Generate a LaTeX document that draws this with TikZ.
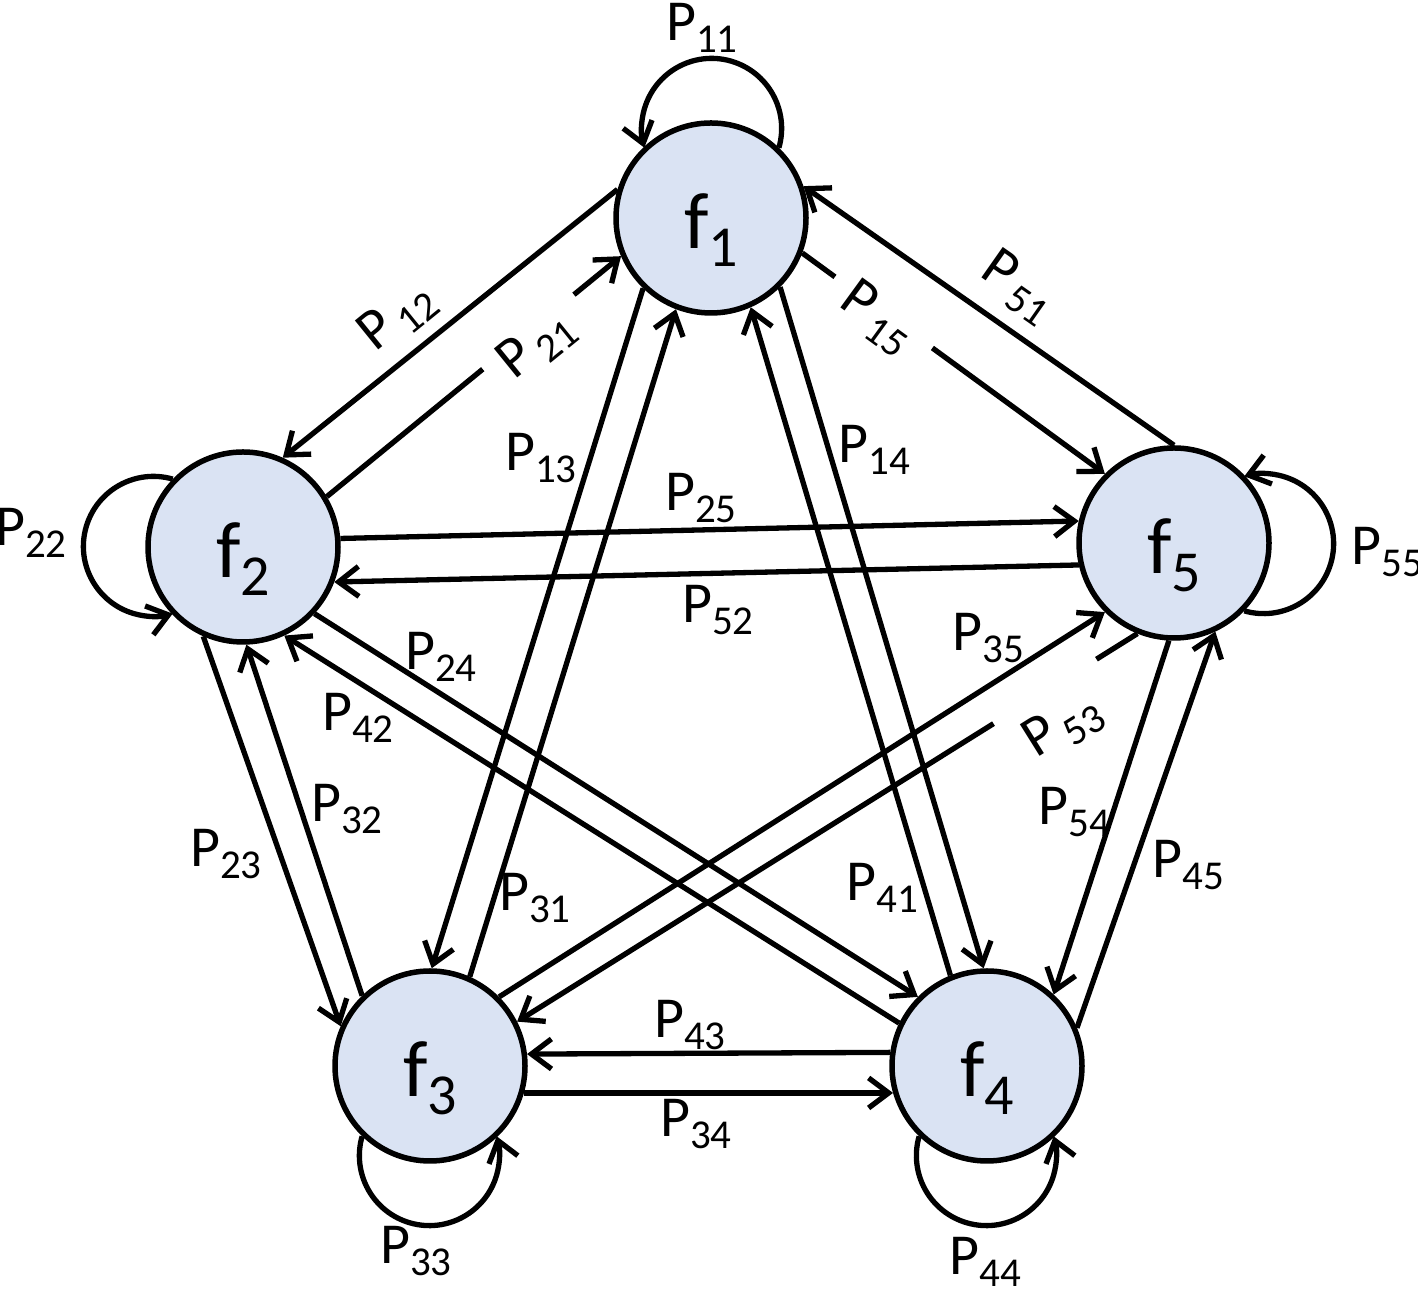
\documentclass[tikz,border=0pt]{standalone}
\usepackage{fontspec}
\setmainfont{Carlito}
\usetikzlibrary{arrows.meta,calc}
\definecolor{nodefill}{RGB}{218,227,243}
\newcommand\plab[1]{\fontsize{58}{58}\selectfont P\raisebox{-12pt}{\fontsize{41}{41}\selectfont #1}}
\newcommand\plabs[1]{\fontsize{58}{58}\selectfont P\hspace{7pt}\raisebox{-10pt}{\fontsize{41}{41}\selectfont #1}}
\newcommand\fnode[1]{\raisebox{-31pt}[0pt][0pt]{\fontsize{80}{80}\selectfont f\raisebox{-18pt}{\fontsize{58}{58}\selectfont #1}}}
\begin{document}
\begin{tikzpicture}[x=1pt,y=1pt,
  state/.style={circle, draw=black, line width=5.5pt, fill=nodefill, minimum size=190pt, inner sep=0pt},
  edge/.style={line width=5.3pt, -{Straight Barb[length=20pt,width=30pt]}},
  lab/.style={inner sep=0pt}]
\useasboundingbox (0,0) rectangle (1418,1289);
% states
\node[state] (f1) at (711,1071) {\fnode{1}};
\node[state] (f2) at (243,742) {\fnode{2}};
\node[state] (f3) at (430,223) {\fnode{3}};
\node[state] (f4) at (987,223) {\fnode{4}};
\node[state] (f5) at (1174,746) {\fnode{5}};
% self loops
\draw[edge] (f1.46) arc[start angle=-16, end angle=196, radius=70];
\draw[edge] (f2.136) arc[start angle=74, end angle=286, radius=70];
\draw[edge] (f3.226) arc[start angle=164, end angle=376, radius=70];
\draw[edge] (f4.226) arc[start angle=164, end angle=376, radius=70];
\draw[edge] (f5.316) arc[start angle=-106, end angle=106, radius=70];
% edges
\draw[edge] (f1.163) -- (f2.66);
\draw[edge] (f2.31) -- ($(f2.31)!0.53!(f1.203)$) ($(f2.31)!0.84!(f1.203)$) -- (f1.203);
\draw[edge] (f1.226) -- (f3.89);
\draw[edge] (f3.66) -- (f1.249);
\draw[edge] (f1.315) -- (f4.92);
\draw[edge] (f4.112) -- (f1.294);
\draw[edge] (f1.339) -- ($(f1.339)!0.108!(f5.135)$) ($(f1.339)!0.43!(f5.135)$) -- (f5.135);
\draw[edge] (f5.90) -- (f1.19);
\draw[edge] (f2.5) -- (f5.167);
\draw[edge] (f5.193) -- (f2.339);
\draw[edge] (f2.317) -- (f4.135);
\draw[edge] (f4.154) -- (f2.295);
\draw[edge] (f2.246) -- (f3.156);
\draw[edge] (f3.134) -- (f2.272);
\draw[edge] (f3.45) -- (f5.225);
\draw[edge] (f5.248) -- ($(f5.248)!0.066!(f3.27)$) ($(f5.248)!0.232!(f3.27)$) -- (f3.27);
\draw[edge] (f5.267) -- (f4.47);
\draw[edge] (f4.23) -- (f5.295);
\draw[edge] (f4.172) -- (f3.7);
\draw[edge] (f3.344) -- (f4.196);
% labels
\node[lab] (l11) at (702,1261) {\plab{11}};
\node[lab] (l22) at (31,756) {\plab{22}};
\node[lab] (l33) at (416,38) {\plab{33}};
\node[lab] (l44) at (985,27) {\plab{44}};
\node[lab] (l55) at (1387,737) {\plab{55}};
\node[lab,rotate=39] (l12) at (397,972) {\plabs{12}};
\node[lab,rotate=39] (l21) at (536,944) {\plabs{21}};
\node[lab,rotate=-36] (l15) at (877,971) {\plabs{15}};
\node[lab,rotate=-35] (l51) at (1018,1002) {\plabs{51}};
\node[lab,rotate=32] (l53) at (1063,563) {\plabs{53}};
\node[lab] (l13) at (541,831) {\plab{13}};
\node[lab] (l14) at (874,839) {\plab{14}};
\node[lab] (l25) at (701,791) {\plab{25}};
\node[lab] (l52) at (718,679) {\plab{52}};
\node[lab] (l24) at (441,632) {\plab{24}};
\node[lab] (l42) at (358,571) {\plab{42}};
\node[lab] (l35) at (988,651) {\plab{35}};
\node[lab] (l32) at (347,480) {\plab{32}};
\node[lab] (l23) at (226,435) {\plab{23}};
\node[lab] (l31) at (535,391) {\plab{31}};
\node[lab] (l41) at (882,401) {\plab{41}};
\node[lab] (l54) at (1074,477) {\plab{54}};
\node[lab] (l45) at (1188,424) {\plab{45}};
\node[lab] (l43) at (690,264) {\plab{43}};
\node[lab] (l34) at (696,165) {\plab{34}};
\end{tikzpicture}
\end{document}
